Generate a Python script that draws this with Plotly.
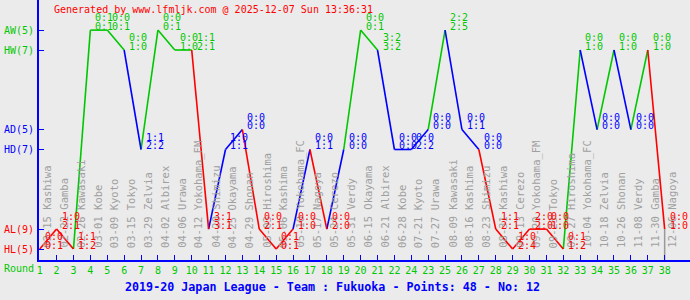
import plotly.graph_objects as go

# ---------------- data ----------------
round_labels = ["1", "2", "3", "4", "5", "6", "7", "8", "9", "10", "11", "12", "13",
                "14", "15", "16", "17", "18", "19", "20", "21", "22", "24", "23", "25",
                "26", "27", "28", "29", "30", "31", "32", "33", "34", "35", "36", "37", "38"]
dates = ["02-15", "02-22", "02-26", "03-01", "03-09", "03-15", "03-29", "04-02", "04-06",
         "04-12", "04-20", "04-25", "04-29", "05-03", "05-06", "05-10", "05-17", "05-24",
         "05-31", "06-15", "06-21", "06-28", "07-21", "07-27", "08-09", "08-16", "08-23",
         "08-31", "09-13", "09-20", "09-23", "09-27", "10-04", "10-18", "10-26", "11-08",
         "11-30", "12-06"]
opponents = ["Kashiwa", "Gamba", "Kawasaki", "Kobe", "Kyoto", "Tokyo", "Zelvia", "Albirex",
             "Urawa", "Yokohama_FM", "Shimizu", "Okayama", "Shonan", "Hiroshima", "Kashima",
             "Yokohama_FC", "Nagoya", "Cerezo", "Verdy", "Okayama", "Albirex", "Kobe", "Kyoto",
             "Urawa", "Kawasaki", "Kashima", "Shimizu", "Kashiwa", "Cerezo", "Yokohama_FM",
             "Tokyo", "Hiroshima", "Yokohama_FC", "Zelvia", "Shonan", "Verdy", "Gamba", "Nagoya"]
results = ["HL", "AL", "HL", "AW", "AW", "HW", "HD", "AW", "HW", "HW", "AL", "HD", "AD",
           "AL", "HL", "AL", "HD", "AL", "HD", "AW", "HW", "HD", "HD", "AD", "AW", "AD",
           "HD", "AL", "HL", "AL", "AL", "HL", "HW", "AD", "HW", "AD", "HW", "AL"]
half_time = ["0:0", "1:0", "1:1", "0:1", "0:0", "0:0", "1:1", "0:0", "0:0", "1:1", "3:1",
             "1:0", "0:0", "0:0", "0:1", "0:0", "0:0", "0:0", "0:0", "0:0", "3:2", "0:0",
             "0:0", "0:0", "2:2", "0:0", "0:0", "1:1", "1:0", "2:0", "0:0", "0:1", "0:0",
             "0:0", "0:0", "0:0", "0:0", "0:0"]
full_time = ["0:1", "2:1", "1:2", "0:1", "0:1", "1:0", "2:2", "0:1", "1:0", "2:1", "3:1",
             "1:1", "0:0", "2:1", "0:1", "1:0", "1:1", "2:0", "0:0", "0:1", "3:2", "0:0",
             "2:2", "0:0", "2:5", "1:1", "0:0", "2:1", "2:4", "2:0", "1:0", "1:2", "1:0",
             "0:0", "1:0", "0:0", "1:0", "1:0"]
level_names = ["AW(5)", "HW(7)", "AD(5)", "HD(7)", "AL(9)", "HL(5)"]
level_codes = ["AW", "HW", "AD", "HD", "AL", "HL"]

# ---------------- styling / mapping ----------------
GREEN, BLUE, RED, GREY = "#00c800", "#0000ff", "#ff0000", "#a0a0a0"
BG = "#ebebeb"
FONT = "DejaVu Sans Mono"
level_value = {"HL": 0.0, "AL": 1.0, "HD": 5.0, "AD": 6.0, "HW": 10.0, "AW": 11.0}
result_color = {"W": GREEN, "D": BLUE, "L": RED}

W, H = 690, 300
PX_PER_UNIT = 19.9
y_top = 249 / PX_PER_UNIT
y_bot = (249 - 260) / PX_PER_UNIT
x_step = 16.94
x0 = 1 - 0.8 / x_step
x1 = x0 + (W - 37) / x_step

positions = list(range(1, len(results) + 1))
yvals = [level_value[r] for r in results]

fig = go.Figure()

# line segments grouped by colour of the destination result
segs = {GREEN: ([], []), BLUE: ([], []), RED: ([], [])}
for i in range(1, len(positions)):
    c = result_color[results[i][1]]
    xs, ys = segs[c]
    xs += [positions[i - 1], positions[i], None]
    ys += [yvals[i - 1], yvals[i], None]
for c, (xs, ys) in segs.items():
    fig.add_trace(go.Scatter(x=xs, y=ys, mode="lines", line=dict(color=c, width=1.6),
                             hoverinfo="skip", showlegend=False))

# grey marker line at the last round
fig.add_trace(go.Scatter(x=[positions[-1], positions[-1]], y=[yvals[-1], y_bot],
                         mode="lines", line=dict(color="#999999", width=1.5),
                         hoverinfo="skip", showlegend=False))

ann = []
# rotated date / opponent labels
for p, d, o in zip(positions, dates, opponents):
    ann.append(dict(x=p, y=0, xref="x", yref="y", text=f"{d} {o}", textangle=-90,
                    showarrow=False, xanchor="center", yanchor="bottom", xshift=7, yshift=-1,
                    font=dict(family=FONT, size=10.5, color=GREY)))
# score labels
for p, r, ht, ft in zip(positions, results, half_time, full_time):
    c = result_color[r[1]]
    for txt, ys in ((ht, 12.5), (ft, 4)):
        ann.append(dict(x=p, y=level_value[r], xref="x", yref="y", text=txt, showarrow=False,
                        xanchor="left", yanchor="middle", xshift=3, yshift=ys,
                        font=dict(family=FONT, size=10, color=c)))
# y level labels
for name, code in zip(level_names, level_codes):
    c = result_color[code[1]]
    ann.append(dict(x=0, y=level_value[code], xref="paper", yref="y", text=name,
                    showarrow=False, xanchor="left", yanchor="middle", xshift=0,
                    font=dict(family=FONT, size=10, color=c)))
# header / footer
ann.append(dict(x=50 / W, y=1 - 10 / H, xref="paper", yref="paper", showarrow=False,
                text="Generated by www.lfmljk.com @ 2025-12-07 Sun 13:36:31",
                xanchor="left", yanchor="middle", font=dict(family=FONT, size=10, color=RED)))
ann.append(dict(x=0, y=1 - 268 / H, xref="paper", yref="paper", showarrow=False,
                text="Round", xanchor="left", yanchor="middle",
                font=dict(family=FONT, size=10, color=GREEN)))
ann.append(dict(x=331 / W, y=1 - 287 / H, xref="paper", yref="paper", showarrow=False,
                text="<b>2019-20 Japan League - Team : Fukuoka - Points: 48 - No: 12</b>",
                xanchor="center", yanchor="middle",
                font=dict(family=FONT, size=11.7, color=BLUE)))

fig.update_layout(
    width=W, height=H, margin=dict(l=0, r=0, t=0, b=0),
    paper_bgcolor=BG, plot_bgcolor=BG, showlegend=False,
    annotations=ann,
    xaxis=dict(domain=[37 / W, 1], range=[x0, x1], showgrid=False, zeroline=False,
               showline=True, linecolor=BLUE, linewidth=2,
               ticks="inside", ticklen=5, tickwidth=1, tickcolor=BLUE,
               tickvals=positions, ticktext=round_labels,
               tickfont=dict(family=FONT, size=10, color=GREEN)),
    yaxis=dict(domain=[40 / H, 1], range=[y_bot, y_top], showgrid=False, zeroline=False,
               showline=True, linecolor=BLUE, linewidth=2,
               ticks="inside", ticklen=5, tickwidth=1, tickcolor=BLUE,
               tickvals=[level_value[c] for c in level_codes], showticklabels=False),
)
fig.write_html("out.html")
